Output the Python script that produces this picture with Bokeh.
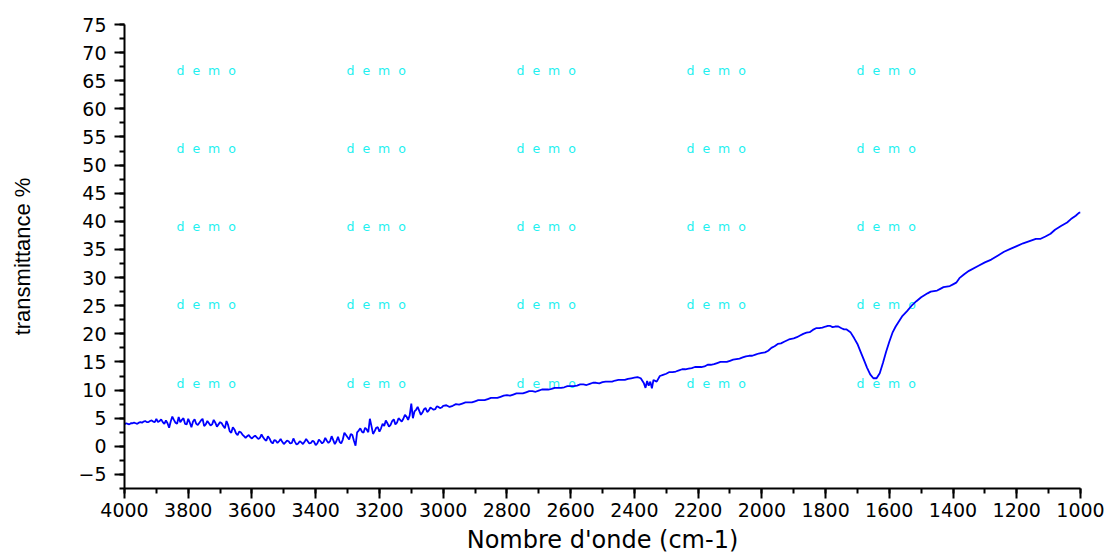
from bokeh.plotting import figure
from bokeh.models import Range1d, SingleIntervalTicker, ColumnDataSource
from bokeh.core.properties import value
from bokeh.embed import file_html
from bokeh.resources import INLINE

# Wavenumber (cm-1) and transmittance (%)
wavenumber = [
    4000, 3990, 3980, 3970, 3960, 3950, 3940, 3930, 3920, 3910,
    3900, 3890, 3880, 3870, 3860, 3850, 3840, 3830, 3820, 3810,
    3800, 3790, 3780, 3770, 3760, 3750, 3740, 3730, 3720, 3710,
    3700, 3690, 3680, 3670, 3660, 3650, 3640, 3630, 3620, 3610,
    3600, 3590, 3580, 3570, 3560, 3550, 3540, 3530, 3520, 3510,
    3500, 3490, 3480, 3470, 3460, 3450, 3440, 3430, 3420, 3410,
    3400, 3390, 3380, 3370, 3360, 3350, 3340, 3330, 3320, 3310,
    3300, 3290, 3280, 3275, 3270, 3260, 3250, 3240, 3230, 3220,
    3210, 3200, 3190, 3180, 3170, 3160, 3150, 3140, 3130, 3120,
    3110, 3100, 3095, 3090, 3080, 3070, 3060, 3050, 3040, 3030,
    3020, 3010, 3000, 2980, 2960, 2940, 2920, 2900, 2880, 2860,
    2840, 2820, 2800, 2780, 2760, 2740, 2720, 2700, 2680, 2660,
    2640, 2620, 2600, 2580, 2560, 2540, 2520, 2500, 2480, 2460,
    2440, 2420, 2400, 2390, 2380, 2370, 2365, 2360, 2355, 2350,
    2345, 2340, 2330, 2320, 2300, 2280, 2260, 2240, 2220, 2200,
    2180, 2160, 2140, 2120, 2100, 2080, 2060, 2040, 2020, 2000,
    1980, 1960, 1950, 1930, 1900, 1880, 1860, 1840, 1820, 1800,
    1785, 1770, 1750, 1735, 1722, 1710, 1700, 1690, 1680, 1670,
    1660, 1650, 1640, 1630, 1620, 1610, 1600, 1590, 1580, 1570,
    1560, 1545, 1530, 1515, 1500, 1480, 1460, 1440, 1420, 1400,
    1390, 1380, 1365, 1350, 1320, 1300, 1280, 1260, 1240, 1220,
    1200, 1180, 1160, 1140, 1125, 1110, 1094, 1080, 1060, 1042,
    1030, 1015, 1005, 1000,
]
transmittance = [
    3.9, 4.0, 4.1, 4.2, 4.0, 4.3, 4.4, 4.3, 4.5, 4.4,
    4.9, 4.5, 4.3, 4.6, 3.3, 5.3, 4.2, 5.2, 4.7, 4.0,
    4.9, 3.4, 4.8, 3.8, 4.6, 3.6, 4.5, 3.7, 4.7, 3.5,
    4.3, 3.6, 4.5, 2.7, 3.4, 2.3, 2.6, 2.1, 1.5, 2.0,
    1.4, 1.9, 1.3, 2.1, 1.2, 1.8, 0.8, 1.1, 0.6, 1.3,
    0.4, 1.0, 0.5, 1.4, 0.3, 0.9, 0.4, 1.3, 0.5, 1.0,
    0.2, 1.2, 0.5, 1.5, 0.6, 1.8, 0.4, 1.7, 0.5, 2.4,
    1.6, 2.2, 1.0, 0.1, 2.5, 3.2, 2.4, 3.0, 4.9, 2.2,
    3.3, 2.6, 4.0, 4.6, 3.5, 4.5, 3.9, 5.0, 4.4, 5.6,
    4.7, 7.6, 5.0, 6.2, 7.0, 5.6, 6.6, 6.1, 6.9, 6.5,
    7.1, 6.8, 7.2, 7.0, 7.5, 7.6, 7.8, 8.0, 8.2, 8.4,
    8.6, 8.8, 9.1, 9.2, 9.4, 9.6, 9.8, 9.9, 10.1, 10.2,
    10.4, 10.5, 10.7, 10.8, 11.0, 11.1, 11.3, 11.4, 11.5, 11.7,
    11.8, 12.0, 12.2, 12.3, 12.1, 11.2, 10.4, 11.6, 10.8, 11.5,
    10.3, 11.8, 11.5, 12.5, 12.9, 13.2, 13.5, 13.7, 13.9, 14.1,
    14.2, 14.5, 14.8, 15.0, 15.2, 15.5, 15.8, 16.1, 16.3, 16.6,
    17.0, 17.8, 18.2, 18.6, 19.2, 19.7, 20.2, 20.7, 21.0, 21.3,
    21.4, 21.3, 21.0, 20.8, 20.3, 19.2, 18.2, 16.8, 15.4, 14.0,
    12.8, 12.1, 12.1, 13.0, 14.8, 16.8, 18.6, 20.2, 21.3, 22.2,
    23.1, 24.0, 25.0, 25.8, 26.5, 27.2, 27.6, 28.0, 28.4, 28.8,
    29.1, 29.9, 30.6, 31.2, 32.1, 32.7, 33.2, 33.9, 34.6, 35.1,
    35.6, 36.1, 36.5, 36.9, 36.9, 37.3, 37.8, 38.5, 39.2, 39.8,
    40.4, 41.0, 41.5, 41.6,
]
# extra in-between readings of the noisy and jagged stretches
wavenumber_extra = [
    3995, 3985, 3975, 3965, 3955, 3945, 3935, 3925, 3915, 3905,
    3895, 3885, 3875, 3865, 3855, 3845, 3835, 3825, 3815, 3805,
    3795, 3785, 3775, 3765, 3755, 3745, 3735, 3725, 3715, 3705,
    3695, 3685, 3675, 3665, 3655, 3645, 3635, 3625, 3615, 3605,
    3595, 3585, 3575, 3565, 3555, 3545, 3535, 3525, 3515, 3505,
    3495, 3485, 3475, 3465, 3455, 3445, 3435, 3425, 3415, 3405,
    3395, 3385, 3375, 3365, 3355, 3345, 3335, 3325, 3315, 3305,
    3295, 3285, 3265, 3255, 3245, 3235, 3225, 3215, 3205, 3195,
    3185, 3175, 3165, 3155, 3145, 3135, 3125, 3115, 3105, 3085,
    3075, 3065, 3055, 3045, 3035, 3025, 3015, 3005,
    2990, 2970, 2950, 2930, 2910, 2890, 2870, 2850, 2830, 2810,
    2790, 2770, 2750, 2730, 2710, 2690, 2670, 2650, 2630, 2610,
    2590, 2570, 2550, 2530, 2510, 2490, 2470, 2450, 2430, 2410,
    2310, 2290, 2270, 2250, 2230, 2210, 2190, 2170, 2150, 2130,
    2110, 2090, 2070, 2050, 2030, 2010, 1990, 1970, 1940, 1915,
    1890, 1870, 1850, 1830, 1810, 1793, 1778, 1760, 1742,
    1470, 1450, 1430, 1410,
]
transmittance_extra = [
    4.1, 3.9, 4.1, 4.1, 4.2, 4.2, 4.5, 4.3, 4.6, 4.3,
    4.3, 4.8, 4.0, 4.1, 4.4, 4.7, 4.0, 4.3, 5.0, 3.9,
    4.2, 4.4, 4.0, 4.2, 4.9, 3.9, 4.1, 3.9, 4.2, 3.9,
    4.1, 3.2, 3.8, 2.4, 3.0, 2.0, 2.5, 1.8, 1.8, 1.6,
    1.7, 1.6, 1.5, 1.6, 1.0, 1.4, 0.5, 1.0, 0.9, 0.8,
    0.7, 0.9, 0.6, 0.8, 0.5, 0.7, 0.8, 0.9, 0.6, 0.8,
    0.5, 0.9, 0.8, 1.0, 0.9, 1.1, 0.9, 0.8, 1.2, 2.0,
    1.2, 2.0, 2.8, 2.6, 3.3, 2.5, 3.6, 2.7, 3.4, 3.2,
    3.6, 4.1, 3.8, 4.8, 4.2, 4.7, 4.9, 5.3, 5.5, 6.5,
    6.3, 6.0, 6.8, 6.4, 6.7, 6.6, 7.0, 6.9,
    7.3, 7.2, 7.4, 7.8, 7.8, 8.2, 8.2, 8.6, 8.6, 9.0,
    9.0, 9.4, 9.4, 9.8, 9.7, 10.1, 10.1, 10.4, 10.4, 10.7,
    10.7, 11.0, 10.9, 11.3, 11.2, 11.5, 11.5, 11.8, 11.8, 12.1,
    12.7, 13.2, 13.3, 13.7, 13.8, 14.1, 14.1, 14.5, 14.6, 15.0,
    15.0, 15.4, 15.6, 16.0, 16.1, 16.5, 16.7, 17.5, 18.3, 19.0,
    19.4, 20.0, 20.3, 21.0, 21.1, 21.4, 21.2, 21.3, 20.8,
    27.5, 27.7, 28.3, 28.5,
]

x_title = "Nombre d'onde (cm-1)"
y_title = "transmittance %"
watermark = "d\u00a0\u00a0e\u00a0\u00a0m\u00a0\u00a0o"

X0, X1 = 4000, 1000
Y0, Y1 = -7.5, 75
W, H = 1108, 556
L, R, T, B = 124, 28, 24, 68

pairs = sorted(zip(wavenumber + wavenumber_extra,
                   transmittance + transmittance_extra), reverse=True)
xs = [a for a, _ in pairs]
ys = [b for _, b in pairs]

p = figure(width=W, height=H, output_backend="svg", toolbar_location=None,
           x_range=Range1d(X0, X1), y_range=Range1d(Y0, Y1),
           min_border_left=L, min_border_right=R, min_border_top=T,
           min_border_bottom=B)
p.outline_line_color = None
p.xgrid.visible = False
p.ygrid.visible = False
p.background_fill_color = "white"
p.border_fill_color = "white"

# watermark grid (screen-pixel positions converted to data coordinates)
fw, fh = W - L - R, H - T - B
def px2x(px):
    return X0 + (px - L) / fw * (X1 - X0)
def py2y(py):
    return Y1 - (py - T) / fh * (Y1 - Y0)
wx, wy, wt = [], [], []
for py in [70, 148, 226, 304, 383]:
    for px in [176, 346, 516, 686, 856]:
        wx.append(px2x(px)); wy.append(py2y(py)); wt.append(watermark)
p.text(x=wx, y=wy, text=wt, text_color="#1EF0F0",
       text_font=value("DejaVu Sans"), text_font_size="12.5px",
       text_align="left", text_baseline="middle")

src = ColumnDataSource(dict(x=xs, y=ys))
p.line("x", "y", source=src, line_color="#0000FF", line_width=1.8)

p.xaxis.ticker = SingleIntervalTicker(interval=200, num_minor_ticks=2)
p.yaxis.ticker = SingleIntervalTicker(interval=5, num_minor_ticks=2)
for ax in (p.xaxis[0], p.yaxis[0]):
    ax.axis_line_width = 2
    ax.axis_line_color = "black"
    ax.major_tick_line_width = 2
    ax.minor_tick_line_width = 2
    ax.major_tick_in = 0
    ax.major_tick_out = 10
    ax.minor_tick_in = 0
    ax.minor_tick_out = 5
    ax.major_label_text_font = "DejaVu Sans"
    ax.major_label_text_font_size = "19px"
    ax.major_label_text_color = "black"
    ax.axis_label_text_font_style = "normal"
    ax.axis_label_text_color = "black"

p.xaxis.axis_label = x_title
p.xaxis.axis_label_text_font = "DejaVu Sans"
p.xaxis.axis_label_text_font_size = "24px"
p.xaxis.major_label_standoff = 4
p.xaxis.axis_label_standoff = 6

p.yaxis.axis_label = y_title
p.yaxis.axis_label_text_font = "Liberation Sans"
p.yaxis.axis_label_text_font_size = "22px"
p.yaxis.major_label_standoff = 8
p.yaxis.axis_label_standoff = 40

open("out.html", "w").write(file_html(p, INLINE))
